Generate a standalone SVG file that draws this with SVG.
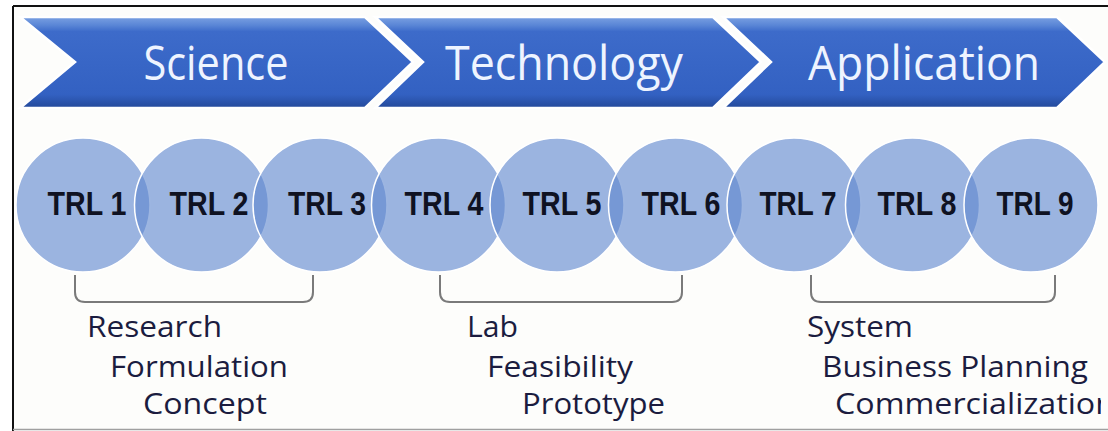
<svg xmlns="http://www.w3.org/2000/svg" width="1108" height="431" viewBox="0 0 1108 431">
<defs>
<linearGradient id="chev" x1="0" y1="0" x2="0" y2="1">
<stop offset="0" stop-color="#7aa0e2"/>
<stop offset="0.09" stop-color="#5a86d6"/>
<stop offset="0.16" stop-color="#3d6bca"/>
<stop offset="0.85" stop-color="#3361c2"/>
<stop offset="1" stop-color="#23499a"/>
</linearGradient>
<clipPath id="frameClip"><rect x="14" y="7" width="1087" height="422"/></clipPath>
<style>
.chev{fill:url(#chev);stroke:#ffffff;stroke-width:2.5;stroke-linejoin:miter}
.ctext{font-family:"Open Sans","Noto Sans",sans-serif;font-size:48px;fill:#eef4ff;text-anchor:middle}
.circ{fill:#5f87cf;fill-opacity:0.62;stroke:#ffffff;stroke-width:1.5}
.trl{font-family:"Liberation Sans",Arial,sans-serif;font-weight:bold;font-size:33px;fill:#0f1222;text-anchor:middle}
.brk{fill:none;stroke:#7a7a7a;stroke-width:2}
.lbl{font-family:"Open Sans","Noto Sans",sans-serif;font-size:30px;fill:#1b1c3f}
</style>
</defs>
<rect x="0" y="0" width="1108" height="431" fill="#ffffff"/>
<rect x="14" y="7" width="1094" height="422" fill="#fdfdfb"/>
<g id="frame" stroke-width="2">
<line x1="13" y1="6" x2="1108" y2="6" stroke="#111"/>
<line x1="13" y1="6" x2="13" y2="431" stroke="#111"/>
<line x1="13" y1="429.5" x2="1108" y2="429.5" stroke="#a0a0a0" stroke-width="1.5"/>
</g>
<g id="phase-science">
<polygon class="chev" points="20,17 365,17 413,62 365,108 20,108 75,62"/>
<text class="ctext" x="216" y="80" textLength="145" lengthAdjust="spacingAndGlyphs">Science</text>
</g>
<g id="phase-technology">
<polygon class="chev" points="375,17 713,17 761,62 713,108 375,108 423,62"/>
<text class="ctext" x="564" y="80" textLength="238" lengthAdjust="spacingAndGlyphs">Technology</text>
</g>
<g id="phase-application">
<polygon class="chev" points="723,17 1057,17 1105,62 1057,108 723,108 771,62"/>
<text class="ctext" x="924" y="80" textLength="232" lengthAdjust="spacingAndGlyphs">Application</text>
</g>
<g id="trl1"><circle class="circ" cx="83" cy="205" r="67"/></g>
<g id="trl2"><circle class="circ" cx="201.5" cy="205" r="67"/></g>
<g id="trl3"><circle class="circ" cx="320" cy="205" r="67"/></g>
<g id="trl4"><circle class="circ" cx="438.5" cy="205" r="67"/></g>
<g id="trl5"><circle class="circ" cx="557" cy="205" r="67"/></g>
<g id="trl6"><circle class="circ" cx="675.5" cy="205" r="67"/></g>
<g id="trl7"><circle class="circ" cx="794" cy="205" r="67"/></g>
<g id="trl8"><circle class="circ" cx="912.5" cy="205" r="67"/></g>
<g id="trl9"><circle class="circ" cx="1031" cy="205" r="67"/></g>
<g id="trl-labels">
<text class="trl" x="87" y="215" textLength="79" lengthAdjust="spacingAndGlyphs">TRL 1</text>
<text class="trl" x="209" y="215" textLength="79" lengthAdjust="spacingAndGlyphs">TRL 2</text>
<text class="trl" x="327" y="215" textLength="78" lengthAdjust="spacingAndGlyphs">TRL 3</text>
<text class="trl" x="444" y="215" textLength="79" lengthAdjust="spacingAndGlyphs">TRL 4</text>
<text class="trl" x="562" y="215" textLength="79" lengthAdjust="spacingAndGlyphs">TRL 5</text>
<text class="trl" x="681" y="215" textLength="79" lengthAdjust="spacingAndGlyphs">TRL 6</text>
<text class="trl" x="798" y="215" textLength="77" lengthAdjust="spacingAndGlyphs">TRL 7</text>
<text class="trl" x="917" y="215" textLength="79" lengthAdjust="spacingAndGlyphs">TRL 8</text>
<text class="trl" x="1035" y="215" textLength="77" lengthAdjust="spacingAndGlyphs">TRL 9</text>
</g>
<g id="connectors">
<path class="brk" d="M75,275 V292 Q75,302 85,302 H303 Q313,302 313,292 V275"/>
<path class="brk" d="M440,275 V292 Q440,302 450,302 H672 Q682,302 682,292 V275"/>
<path class="brk" d="M811,275 V292 Q811,302 821,302 H1045 Q1055,302 1055,292 V275"/>
</g>
<g id="desc-science">
<text class="lbl" x="87" y="337" textLength="135" lengthAdjust="spacingAndGlyphs">Research</text>
<text class="lbl" x="110" y="377" textLength="178" lengthAdjust="spacingAndGlyphs">Formulation</text>
<text class="lbl" x="143" y="414" textLength="124" lengthAdjust="spacingAndGlyphs">Concept</text>
</g>
<g id="desc-technology">
<text class="lbl" x="467" y="337" textLength="51" lengthAdjust="spacingAndGlyphs">Lab</text>
<text class="lbl" x="487" y="377" textLength="146" lengthAdjust="spacingAndGlyphs">Feasibility</text>
<text class="lbl" x="522" y="414" textLength="143" lengthAdjust="spacingAndGlyphs">Prototype</text>
</g>
<g id="desc-application" clip-path="url(#frameClip)">
<text class="lbl" x="807" y="337" textLength="106" lengthAdjust="spacingAndGlyphs">System</text>
<text class="lbl" x="822" y="377" textLength="266" lengthAdjust="spacingAndGlyphs">Business Planning</text>
<text class="lbl" x="835" y="414" textLength="280" lengthAdjust="spacingAndGlyphs">Commercialization</text>
</g>
</svg>
